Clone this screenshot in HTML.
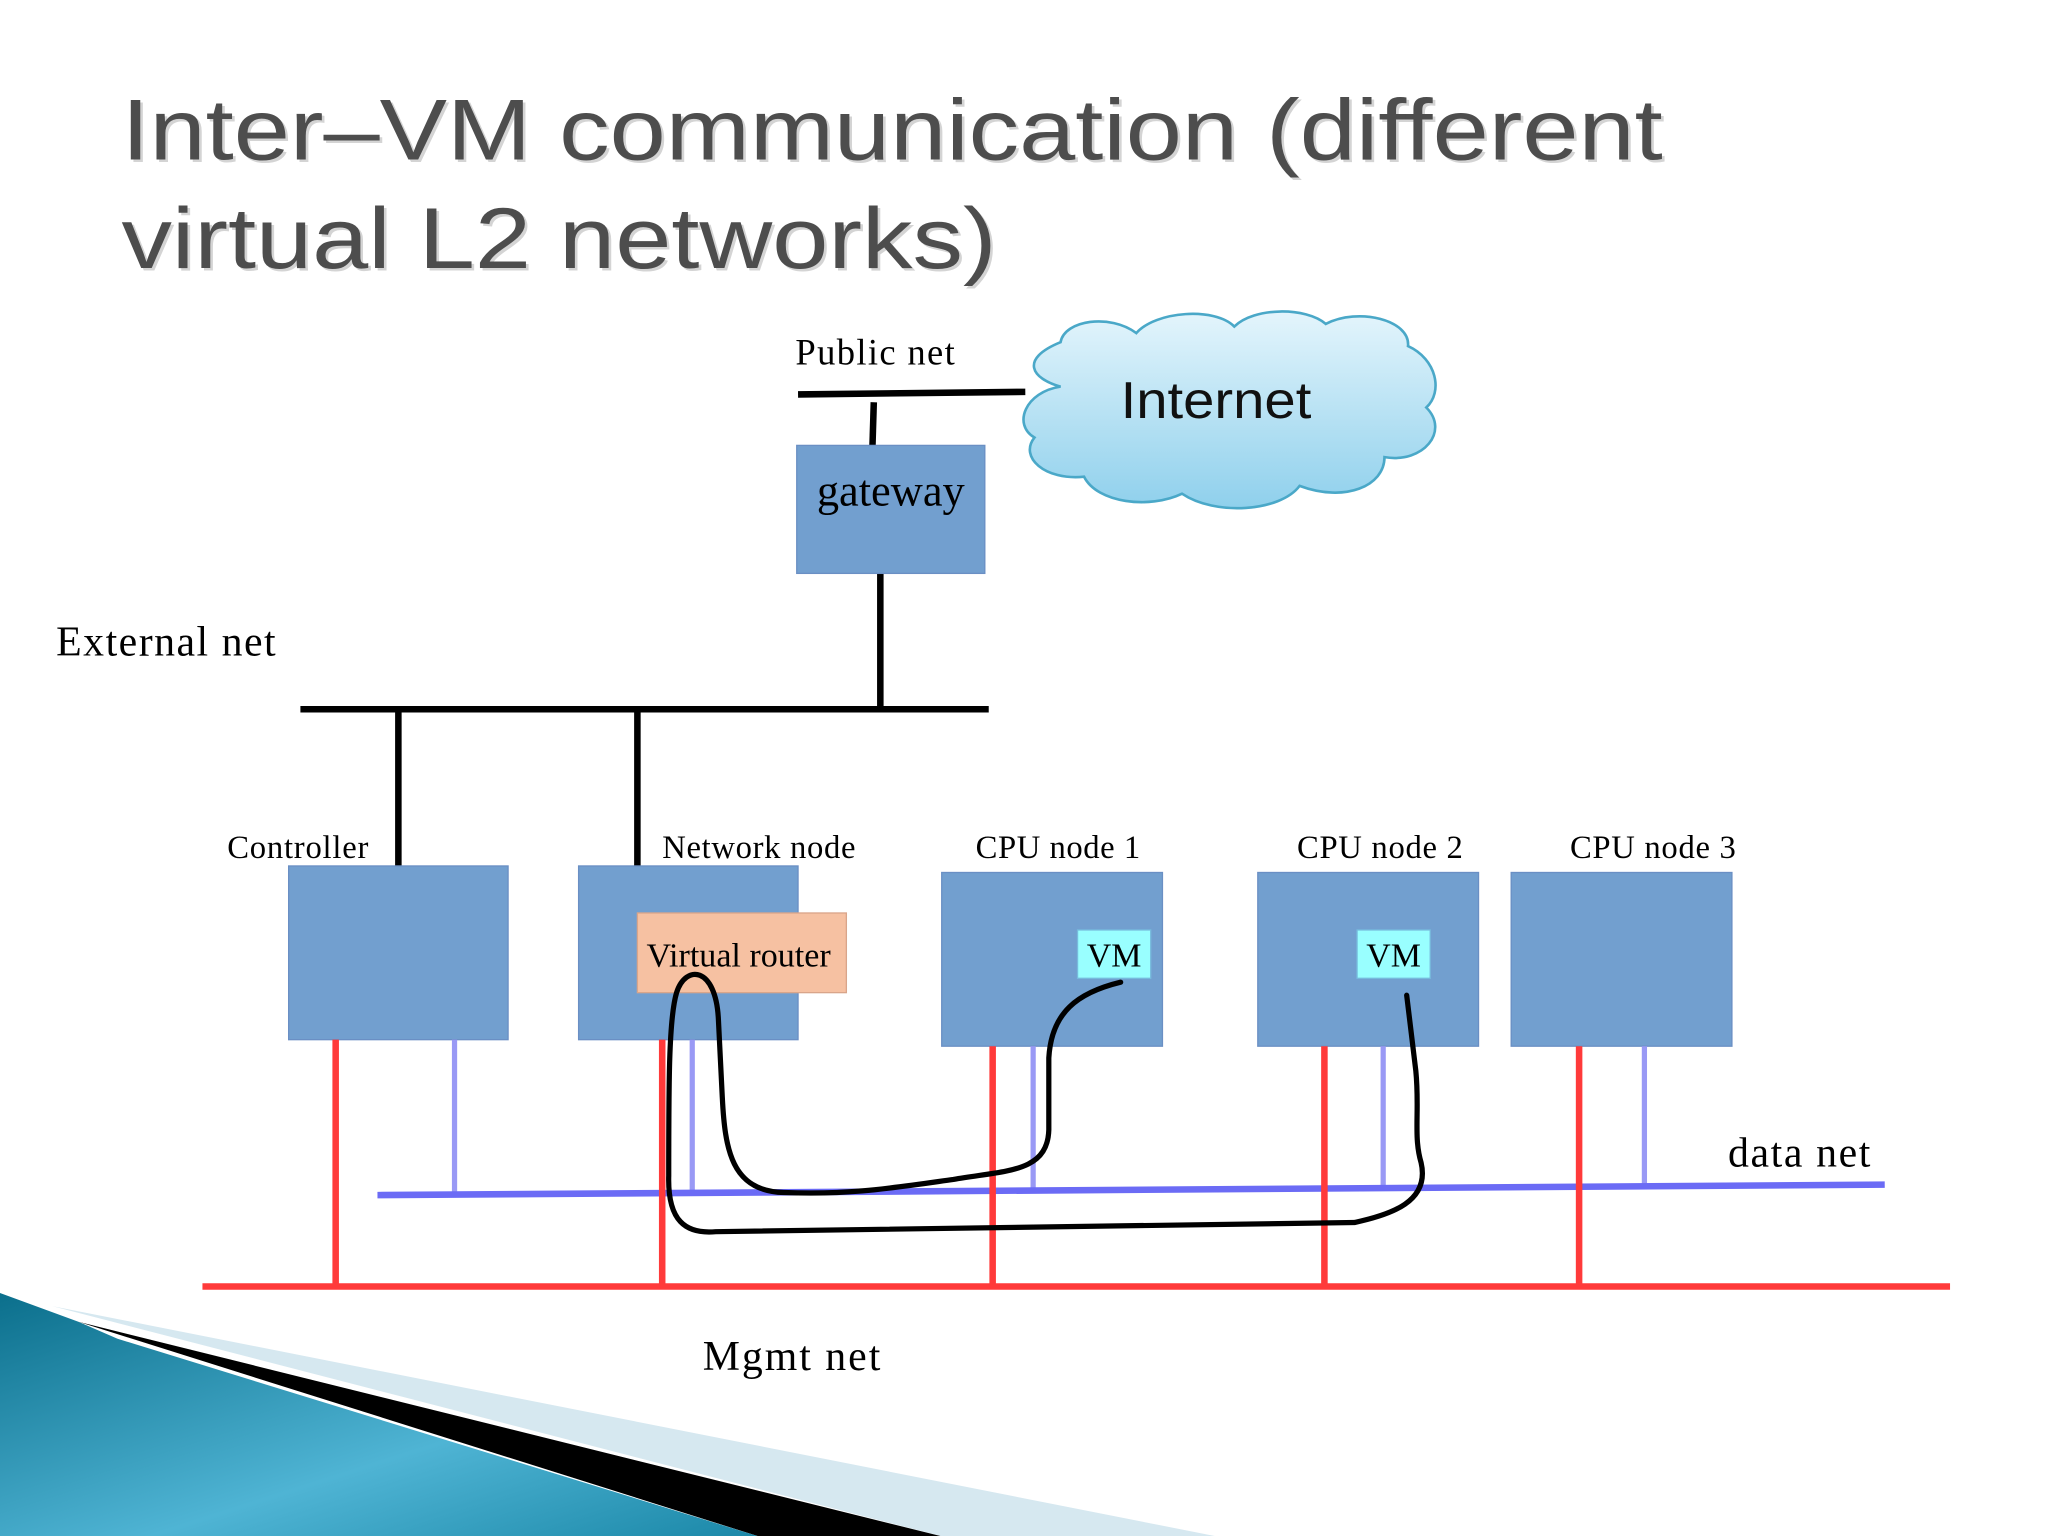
<!DOCTYPE html>
<html><head><meta charset="utf-8"><style>html,body{margin:0;padding:0;background:#fff}svg{display:block}</style></head>
<body>
<svg width="2048" height="1536" viewBox="0 0 1568 1176" xmlns="http://www.w3.org/2000/svg">
<defs>
<linearGradient id="cl" x1="0" y1="0" x2="0" y2="1"><stop offset="0" stop-color="#e4f5fc"/><stop offset="1" stop-color="#8fd0ec"/></linearGradient>
<linearGradient id="tl" x1="0" y1="0" x2="1" y2="1"><stop offset="0" stop-color="#0b6f8c"/><stop offset="0.6" stop-color="#4fb4d4"/><stop offset="1" stop-color="#1b88a8"/></linearGradient>
</defs>
<rect width="1568" height="1176" fill="#fff"/>
<polygon points="40,1000 930,1176 720,1176" fill="#d6e8f0"/>
<polygon points="60,1012 720,1176 580,1176" fill="#000"/>
<polygon points="0,990 60,1012 90,1025 580,1176 0,1176" fill="url(#tl)"/>
<g font-family="'Liberation Sans', sans-serif" font-size="66">
<text x="95" y="124" textLength="1180" lengthAdjust="spacingAndGlyphs" fill="#d4d4d4">Inter–VM communication (different</text>
<text x="93" y="122" textLength="1180" lengthAdjust="spacingAndGlyphs" fill="#4d4d4d">Inter–VM communication (different</text>
<text x="95" y="207" textLength="670" lengthAdjust="spacingAndGlyphs" fill="#d4d4d4">virtual L2 networks)</text>
<text x="93" y="205" textLength="670" lengthAdjust="spacingAndGlyphs" fill="#4d4d4d">virtual L2 networks)</text>
</g>
<path d="M812,296 C790,290 780,275 812,262 C815,245 850,240 870,255 C885,238 930,235 945,250 C960,235 1000,235 1015,248 C1040,235 1080,245 1078,265 C1100,275 1105,300 1092,312 C1110,330 1090,355 1060,350 C1060,372 1030,385 995,372 C980,392 930,395 905,378 C880,390 840,385 830,365 C800,368 780,350 792,335 C775,325 785,300 812,296 Z" fill="url(#cl)" stroke="#4aa8c8" stroke-width="2"/>
<text x="858" y="320" font-family="'Liberation Sans', sans-serif" font-size="40" fill="#111" textLength="146" lengthAdjust="spacingAndGlyphs">Internet</text>
<g stroke="#000" stroke-width="5" fill="none">
<line x1="611" y1="302" x2="785" y2="300"/>
<line x1="669" y1="308" x2="668" y2="341"/>
<line x1="674" y1="439" x2="674" y2="543"/>
<line x1="230" y1="543" x2="757" y2="543"/>
<line x1="305" y1="543" x2="305" y2="663"/>
<line x1="488" y1="543" x2="488" y2="663"/>
</g>
<g font-family="'Liberation Serif', serif" fill="#000" lengthAdjust="spacingAndGlyphs">
<text x="609" y="279" font-size="28" textLength="122">Public net</text>
<text x="43" y="502" font-size="32" textLength="168">External net</text>
<text x="174" y="657" font-size="25" textLength="108">Controller</text>
<text x="507" y="657" font-size="25" textLength="148">Network node</text>
<text x="747" y="657" font-size="25" textLength="126">CPU node 1</text>
<text x="993" y="657" font-size="25" textLength="127">CPU node 2</text>
<text x="1202" y="657" font-size="25" textLength="127">CPU node 3</text>
<text x="1323" y="893" font-size="32" textLength="109">data net</text>
<text x="538" y="1049" font-size="32" textLength="136">Mgmt net</text>
</g>
<g fill="#729fcf" stroke="#6a8fc4" stroke-width="1">
<rect x="610" y="341" width="144" height="98"/>
<rect x="221" y="663" width="168" height="133"/>
<rect x="443" y="663" width="168" height="133"/>
<rect x="721" y="668" width="169" height="133"/>
<rect x="963" y="668" width="169" height="133"/>
<rect x="1157" y="668" width="169" height="133"/>
</g>
<text x="682" y="387" text-anchor="middle" font-family="'Liberation Serif', serif" font-size="34">gateway</text>
<rect x="488" y="699" width="160" height="61" fill="#f6c1a2" stroke="#d9a58a"/>
<text x="495" y="740" font-family="'Liberation Serif', serif" font-size="26" textLength="141" lengthAdjust="spacingAndGlyphs">Virtual router</text>
<rect x="825" y="712" width="56" height="37" fill="#99ffff" stroke="#7bd"/>
<rect x="1039" y="712" width="56" height="37" fill="#99ffff" stroke="#7bd"/>
<text x="853" y="740" text-anchor="middle" font-family="'Liberation Serif', serif" font-size="26">VM</text>
<text x="1067" y="740" text-anchor="middle" font-family="'Liberation Serif', serif" font-size="26">VM</text>
<g stroke="#9999f5" stroke-width="4">
<line x1="348" y1="796" x2="348" y2="914"/>
<line x1="530" y1="796" x2="530" y2="913"/>
<line x1="791" y1="801" x2="791" y2="912"/>
<line x1="1059" y1="801" x2="1059" y2="910"/>
<line x1="1259" y1="801" x2="1259" y2="908"/>
</g>
<line x1="289" y1="915" x2="1443" y2="907" stroke="#6b6bf5" stroke-width="5"/>
<g stroke="#ff3a3a" stroke-width="5">
<line x1="257" y1="796" x2="257" y2="985"/>
<line x1="507" y1="796" x2="507" y2="985"/>
<line x1="760" y1="801" x2="760" y2="985"/>
<line x1="1014" y1="801" x2="1014" y2="985"/>
<line x1="1209" y1="801" x2="1209" y2="985"/>
</g>
<line x1="155" y1="985" x2="1493" y2="985" stroke="#ff3a3a" stroke-width="5"/>
<g stroke="#000" stroke-width="4" fill="none" stroke-linecap="round">
<path d="M858,752 C825,760 805,775 803,810 L803,865 C802,898 770,896 730,903 C680,910 650,915 600,913 C560,912 555,880 553,840 L550,780 C548,740 525,738 518,760 C512,780 512,830 512,900 C511,935 525,945 548,943 L1037,936 C1065,930 1095,920 1088,890 C1082,870 1087,850 1084,820 L1077,762"/>
</g>
</svg>
</body></html>
